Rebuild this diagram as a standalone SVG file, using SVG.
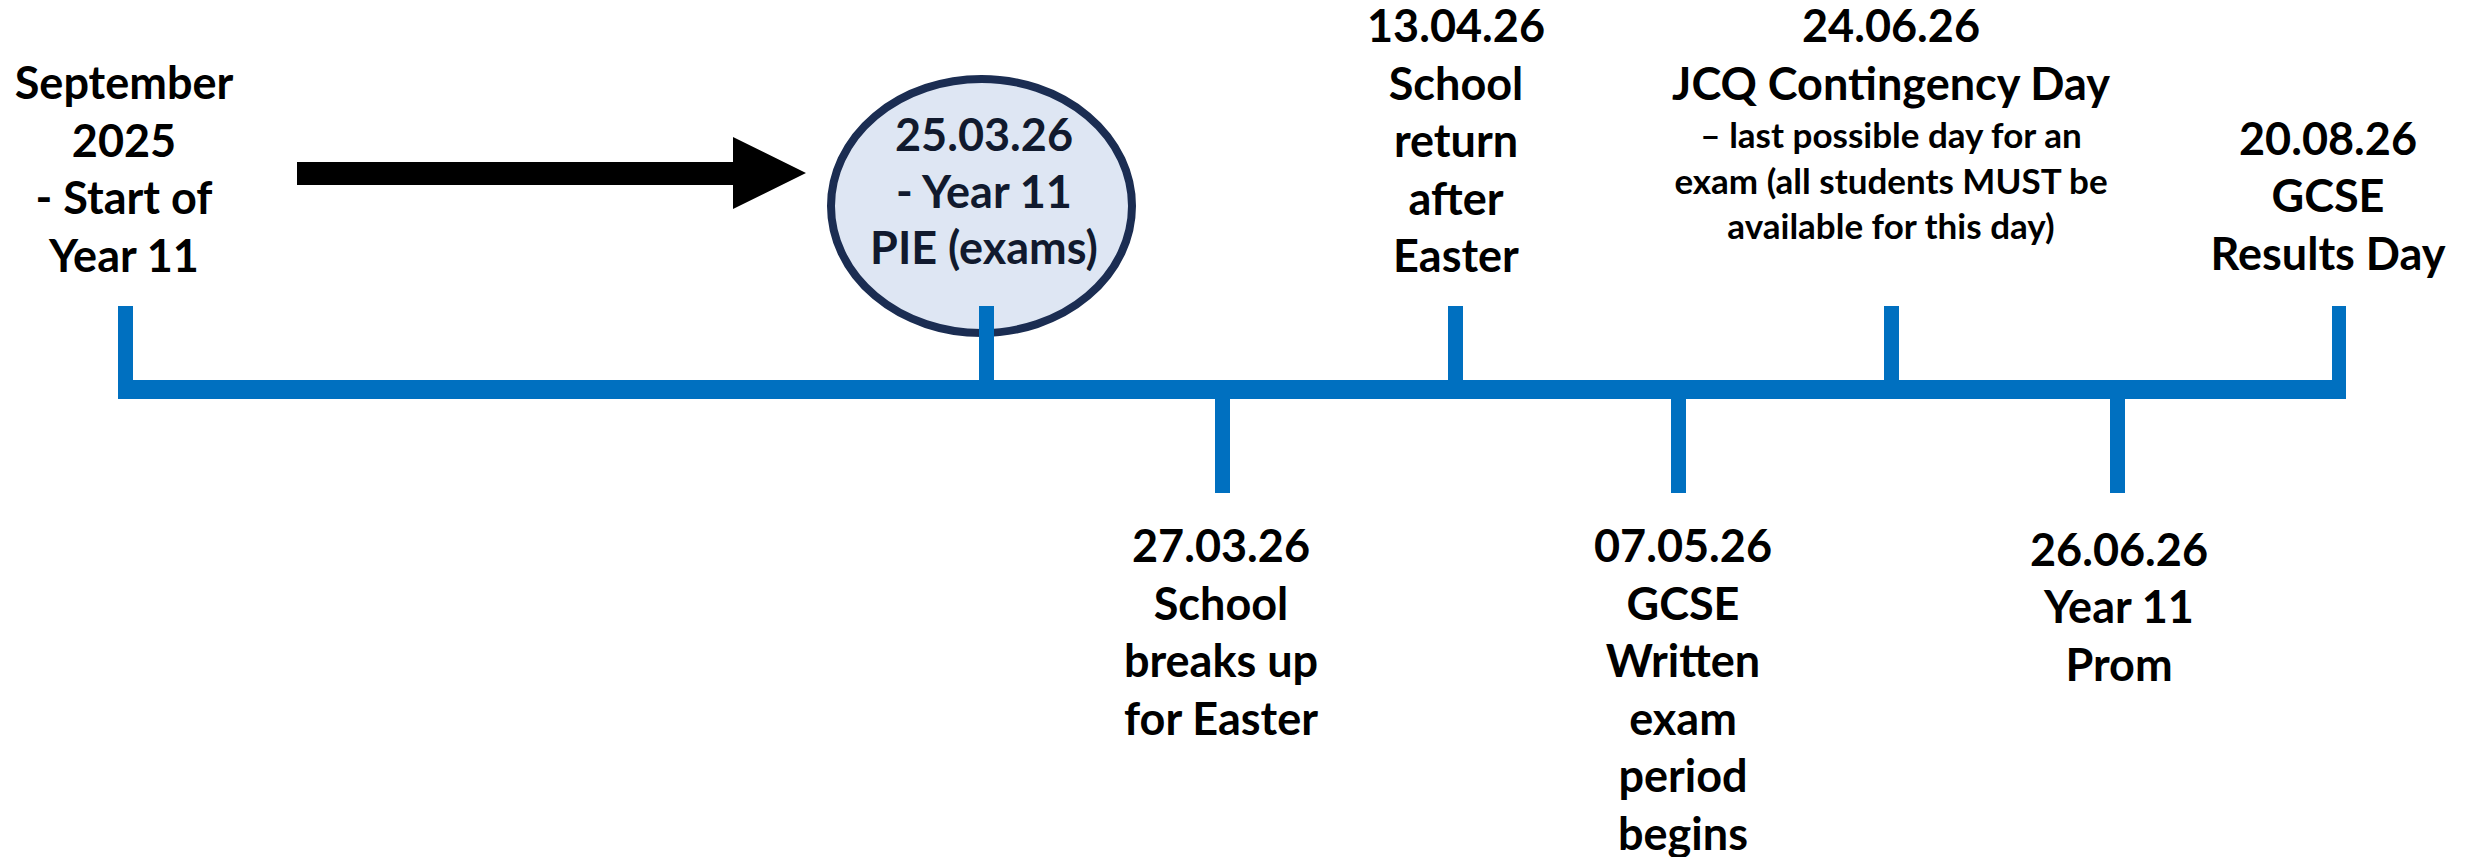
<svg xmlns="http://www.w3.org/2000/svg" width="2466" height="857" viewBox="0 0 2466 857">
  <style>
    .t { font-family: Lato, "Liberation Sans", sans-serif; font-weight: bold; font-size: 45px; fill: #000; text-anchor: middle; }
    .s { font-size: 35px; }
    .c { fill: #111a2e; }
    .tick { fill: #0070C0; }
  </style>
  <rect x="0" y="0" width="2466" height="857" fill="#ffffff"/>

  <g id="connectors">
    <rect class="tick" x="118" y="380" width="2228" height="19"/>
    <rect class="tick" x="118" y="306" width="15" height="93"/>
    <rect class="tick" x="2332" y="306" width="14" height="93"/>
    <rect class="tick" x="1448" y="306" width="15" height="93"/>
    <rect class="tick" x="1884" y="306" width="15" height="93"/>
    <rect class="tick" x="1215" y="380" width="15" height="113"/>
    <rect class="tick" x="1671" y="380" width="15" height="113"/>
    <rect class="tick" x="2110" y="380" width="15" height="113"/>
    <path id="arrow" d="M297,162 H733 V137 L806,173 L733,209 V185 H297 Z" fill="#000"/>
  </g>

  <g id="node-sep2025">
    <text class="t" x="124" y="99">September</text>
    <text class="t" x="124" y="157">2025</text>
    <text class="t" x="124" y="214">- Start of</text>
    <text class="t" x="124" y="272">Year 11</text>
  </g>

  <g id="node-pie">
    <ellipse cx="981.5" cy="206" rx="150.5" ry="127" fill="#dee6f3" stroke="#1b2d52" stroke-width="8"/>
    <text class="t c" x="984" y="151">25.03.26</text>
    <text class="t c" x="984" y="208">- Year 11</text>
    <text class="t c" x="984" y="264">PIE (exams)</text>
    <rect class="tick" x="979" y="306" width="15" height="93"/>
  </g>

  <g id="node-return">
    <text class="t" x="1456" y="42">13.04.26</text>
    <text class="t" x="1456" y="100">School</text>
    <text class="t" x="1456" y="157">return</text>
    <text class="t" x="1456" y="215">after</text>
    <text class="t" x="1456" y="272">Easter</text>
  </g>

  <g id="node-jcq">
    <text class="t" x="1891" y="42">24.06.26</text>
    <text class="t" x="1891" y="100">JCQ Contingency Day</text>
    <text class="t s" x="1891" y="148">– last possible day for an</text>
    <text class="t s" x="1891" y="194">exam (all students MUST be</text>
    <text class="t s" x="1891" y="239">available for this day)</text>
  </g>

  <g id="node-results">
    <text class="t" x="2328" y="155">20.08.26</text>
    <text class="t" x="2328" y="212">GCSE</text>
    <text class="t" x="2328" y="270">Results Day</text>
  </g>

  <g id="node-breakup">
    <text class="t" x="1221" y="562">27.03.26</text>
    <text class="t" x="1221" y="620">School</text>
    <text class="t" x="1221" y="677">breaks up</text>
    <text class="t" x="1221" y="735">for Easter</text>
  </g>

  <g id="node-exams">
    <text class="t" x="1683" y="562">07.05.26</text>
    <text class="t" x="1683" y="620">GCSE</text>
    <text class="t" x="1683" y="677">Written</text>
    <text class="t" x="1683" y="735">exam</text>
    <text class="t" x="1683" y="792">period</text>
    <text class="t" x="1683" y="850">begins</text>
  </g>

  <g id="node-prom">
    <text class="t" x="2119" y="566">26.06.26</text>
    <text class="t" x="2119" y="623">Year 11</text>
    <text class="t" x="2119" y="681">Prom</text>
  </g>
</svg>
